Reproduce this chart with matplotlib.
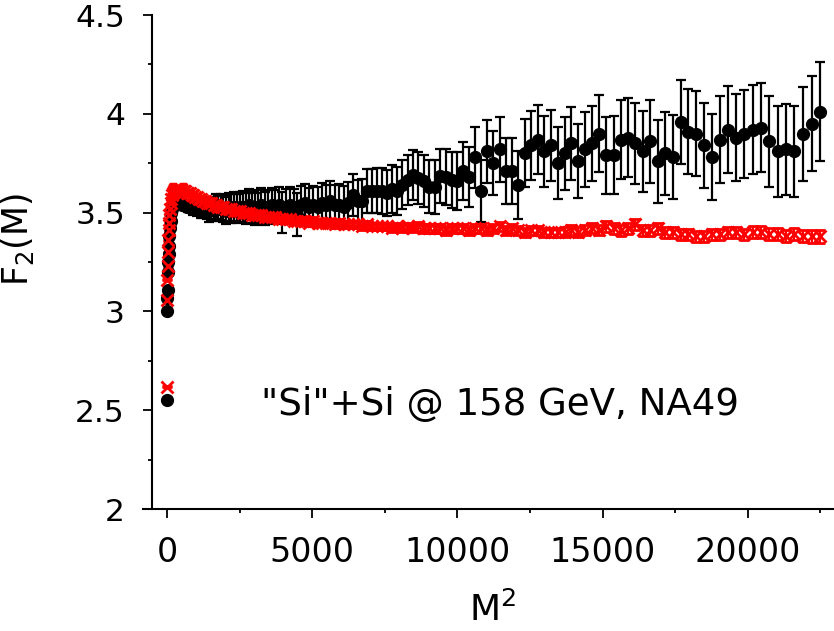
import numpy as np
import matplotlib
matplotlib.use("Agg")
import matplotlib.pyplot as plt
from matplotlib.ticker import MultipleLocator

plt.rcParams['font.family'] = ['DejaVu Sans']
plt.rcParams['mathtext.default'] = 'regular'

# bin index M = 1..150, plotted against M^2
M = np.arange(1, 151)

# "Si"+Si data (black circles)
f2_data = [
    2.55, 3.00, 3.07, 3.11, 3.20, 3.25, 3.29, 3.33, 3.38, 3.42,
    3.46, 3.50, 3.52, 3.54, 3.55, 3.56, 3.56, 3.56, 3.56, 3.55,
    3.55, 3.55, 3.54, 3.54, 3.54, 3.53, 3.53, 3.53, 3.53, 3.52,
    3.53, 3.52, 3.53, 3.52, 3.52, 3.53, 3.52, 3.51, 3.52, 3.52,
    3.53, 3.52, 3.53, 3.52, 3.51, 3.53, 3.52, 3.53, 3.52, 3.53,
    3.53, 3.52, 3.54, 3.53, 3.52, 3.53, 3.54, 3.52, 3.53, 3.54,
    3.53, 3.54, 3.50, 3.53, 3.54, 3.53, 3.49, 3.54, 3.55, 3.53,
    3.54, 3.53, 3.55, 3.54, 3.56, 3.54, 3.54, 3.53, 3.55, 3.59,
    3.56, 3.56, 3.61, 3.61, 3.61, 3.61, 3.60, 3.62, 3.61, 3.64,
    3.665, 3.69, 3.675, 3.66, 3.63, 3.63, 3.685, 3.68, 3.665, 3.66,
    3.71, 3.68, 3.78, 3.61, 3.81, 3.75, 3.82, 3.71, 3.71, 3.64,
    3.80, 3.84, 3.87, 3.81, 3.84, 3.75, 3.80, 3.85, 3.76, 3.82,
    3.85, 3.90, 3.79, 3.79, 3.87, 3.88, 3.85, 3.81, 3.86, 3.76,
    3.80, 3.78, 3.96, 3.91, 3.90, 3.84, 3.78, 3.87, 3.92, 3.88,
    3.90, 3.92, 3.93, 3.86, 3.81, 3.82, 3.81, 3.90, 3.95, 4.01,
]
f2_data_err = [
    0.002, 0.003, 0.003, 0.003, 0.004, 0.004, 0.004, 0.005, 0.005, 0.005,
    0.006, 0.006, 0.007, 0.007, 0.008, 0.009, 0.010, 0.011, 0.012, 0.013,
    0.014, 0.016, 0.018, 0.020, 0.022, 0.024, 0.026, 0.028, 0.030, 0.033,
    0.036, 0.039, 0.042, 0.045, 0.048, 0.051, 0.054, 0.056, 0.058, 0.060,
    0.062, 0.064, 0.066, 0.068, 0.070, 0.071, 0.072, 0.074, 0.075, 0.076,
    0.077, 0.078, 0.079, 0.080, 0.081, 0.082, 0.083, 0.084, 0.085, 0.086,
    0.087, 0.088, 0.105, 0.090, 0.091, 0.092, 0.110, 0.094, 0.095, 0.096,
    0.097, 0.098, 0.099, 0.100, 0.101, 0.102, 0.103, 0.104, 0.105, 0.106,
    0.107, 0.108, 0.110, 0.112, 0.114, 0.116, 0.118, 0.120, 0.122, 0.124,
    0.126, 0.128, 0.130, 0.132, 0.134, 0.136, 0.138, 0.140, 0.142, 0.145,
    0.148, 0.151, 0.154, 0.157, 0.160, 0.162, 0.164, 0.166, 0.168, 0.170,
    0.172, 0.174, 0.176, 0.178, 0.180, 0.182, 0.184, 0.186, 0.188, 0.190,
    0.192, 0.194, 0.196, 0.198, 0.200, 0.202, 0.204, 0.206, 0.208, 0.210,
    0.211, 0.212, 0.213, 0.214, 0.215, 0.216, 0.218, 0.220, 0.221, 0.222,
    0.223, 0.224, 0.226, 0.228, 0.229, 0.230, 0.232, 0.238, 0.240, 0.250,
]

# mixed events (red crosses)
f2_mix = [
    2.62, 3.06, 3.16, 3.23, 3.30, 3.36, 3.41, 3.45, 3.49, 3.52,
    3.55, 3.57, 3.59, 3.60, 3.61, 3.62, 3.62, 3.62, 3.62, 3.62,
    3.62, 3.62, 3.61, 3.61, 3.61, 3.60, 3.60, 3.60, 3.59, 3.59,
    3.58, 3.58, 3.57, 3.57, 3.56, 3.56, 3.55, 3.55, 3.55, 3.54,
    3.54, 3.53, 3.53, 3.53, 3.52, 3.52, 3.52, 3.51, 3.51, 3.51,
    3.50, 3.50, 3.50, 3.49, 3.49, 3.49, 3.49, 3.48, 3.48, 3.48,
    3.48, 3.47, 3.47, 3.47, 3.47, 3.46, 3.46, 3.46, 3.46, 3.45,
    3.46, 3.45, 3.45, 3.45, 3.45, 3.44, 3.45, 3.44, 3.44, 3.44,
    3.44, 3.43, 3.44, 3.43, 3.43, 3.43, 3.43, 3.42, 3.43, 3.42,
    3.43, 3.42, 3.43, 3.42, 3.42, 3.42, 3.42, 3.41, 3.42, 3.42,
    3.42, 3.41, 3.42, 3.42, 3.41, 3.42, 3.43, 3.41, 3.42, 3.41,
    3.40, 3.41, 3.41, 3.40, 3.40, 3.40, 3.40, 3.41, 3.40, 3.41,
    3.42, 3.41, 3.43, 3.42, 3.41, 3.42, 3.44, 3.41, 3.41, 3.42,
    3.40, 3.40, 3.39, 3.39, 3.38, 3.38, 3.39, 3.39, 3.40, 3.40,
    3.39, 3.40, 3.40, 3.39, 3.39, 3.38, 3.39, 3.38, 3.38, 3.38,
]
f2_mix_err = [
    0.002, 0.002, 0.002, 0.002, 0.002, 0.002, 0.002, 0.002, 0.002, 0.002,
    0.003, 0.003, 0.003, 0.003, 0.003, 0.003, 0.003, 0.003, 0.003, 0.003,
    0.004, 0.004, 0.004, 0.004, 0.004, 0.004, 0.004, 0.004, 0.004, 0.004,
    0.005, 0.005, 0.006, 0.006, 0.006, 0.007, 0.007, 0.007, 0.008, 0.008,
    0.008, 0.009, 0.009, 0.009, 0.010, 0.010, 0.010, 0.011, 0.011, 0.011,
    0.012, 0.012, 0.012, 0.012, 0.013, 0.013, 0.013, 0.013, 0.014, 0.014,
    0.014, 0.014, 0.015, 0.015, 0.015, 0.015, 0.016, 0.016, 0.016, 0.016,
    0.016, 0.017, 0.017, 0.017, 0.017, 0.017, 0.018, 0.018, 0.018, 0.018,
    0.018, 0.019, 0.019, 0.019, 0.019, 0.019, 0.020, 0.020, 0.020, 0.020,
    0.020, 0.020, 0.021, 0.021, 0.021, 0.021, 0.021, 0.022, 0.022, 0.022,
    0.022, 0.022, 0.022, 0.022, 0.023, 0.023, 0.023, 0.023, 0.023, 0.023,
    0.023, 0.024, 0.024, 0.024, 0.024, 0.024, 0.025, 0.025, 0.025, 0.025,
    0.025, 0.025, 0.026, 0.026, 0.026, 0.026, 0.026, 0.027, 0.027, 0.027,
    0.027, 0.027, 0.028, 0.028, 0.028, 0.028, 0.029, 0.029, 0.029, 0.029,
    0.029, 0.030, 0.030, 0.030, 0.030, 0.031, 0.031, 0.031, 0.032, 0.032,
]

M2 = M**2

fig = plt.figure(figsize=(8.34, 6.31), dpi=100)
ax = fig.add_axes([0.1823, 0.1933, 0.8177, 0.7829])

ax.errorbar(M2, f2_data, yerr=f2_data_err, fmt='o', color='black', ms=8.5,
            elinewidth=1.6, capsize=3.4, capthick=1.6)
ax.errorbar(M2, f2_mix, yerr=f2_mix_err, fmt='x', color='red', ms=8,
            mew=2.0, elinewidth=1.5, capsize=3.6, capthick=1.5)

ax.text(11450, 2.53, '"Si"+Si @ 158 GeV, NA49', fontsize=26.7, ha='center', va='center')

ax.set_xlim(-520, 22970)
ax.set_ylim(2, 4.5)
ax.yaxis.set_major_locator(MultipleLocator(0.5))
ax.yaxis.set_minor_locator(MultipleLocator(0.25))
ax.xaxis.set_major_locator(MultipleLocator(5000))
ax.xaxis.set_minor_locator(MultipleLocator(2500))
ax.set_yticks([2, 2.5, 3, 3.5, 4, 4.5])
ax.set_yticklabels(['2', '2.5', '3', '3.5', '4', '4.5'])

for s in ['top', 'right']:
    ax.spines[s].set_visible(False)
ax.spines['left'].set_linewidth(1.5)
ax.spines['bottom'].set_visible(False)
# bottom axis line runs a bit past the left spine
ax.plot([-0.013, 1.0], [0, 0], transform=ax.transAxes, color='black',
        lw=1.5, clip_on=False)

ax.tick_params(axis='both', which='major', direction='out', length=6.5, width=1.3)
ax.tick_params(axis='both', which='minor', direction='out', length=3.2, width=1.3)
ax.tick_params(axis='y', labelsize=22.5, pad=13)
ax.tick_params(axis='x', labelsize=24, pad=13)

ax.set_ylabel('F$_2$(M)', fontsize=25)
ax.yaxis.set_label_coords(-0.17, 0.545)
ax.set_xlabel('M$^2$', fontsize=26, labelpad=16)

fig.savefig('out.png', dpi=100)
